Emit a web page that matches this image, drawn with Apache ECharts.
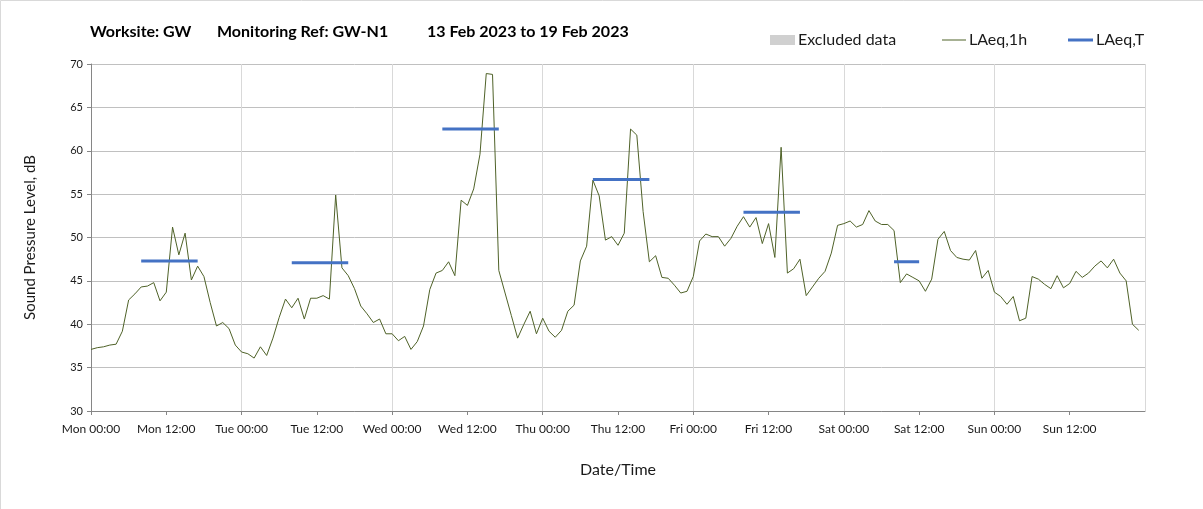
<!DOCTYPE html>
<html>
<head>
<meta charset="utf-8">
<script src="https://cdn.jsdelivr.net/npm/echarts@6/dist/echarts.min.js"></script>
<style>
  html, body { margin: 0; padding: 0; background: #fff; }
  #chart { width: 1203px; height: 509px; }
</style>
</head>
<body>
<div id="chart"></div>
<script>
// Hourly LAeq,1h levels (dB), Monday 00:00 through Sunday 23:00
const hourlyLevels = [
  // Mon
  37.1, 37.3, 37.4, 37.6, 37.7, 39.2, 42.8, 43.5, 44.3, 44.4, 44.8, 42.7,
  43.7, 51.2, 48.0, 50.5, 45.1, 46.7, 45.5, 42.5, 39.8, 40.2, 39.5, 37.6,
  // Tue
  36.8, 36.6, 36.1, 37.4, 36.4, 38.4, 40.8, 42.9, 41.9, 43.0, 40.6, 43.0,
  43.0, 43.3, 42.9, 54.9, 46.5, 45.6, 44.1, 42.1, 41.2, 40.2, 40.6, 38.9,
  // Wed
  38.9, 38.1, 38.6, 37.1, 38.0, 39.8, 44.0, 45.9, 46.2, 47.2, 45.6, 54.3,
  53.7, 55.6, 59.6, 68.9, 68.8, 46.2, 43.6, 41.0, 38.4, 40.0, 41.5, 38.9,
  // Thu
  40.7, 39.2, 38.5, 39.3, 41.5, 42.2, 47.3, 49.0, 56.6, 54.8, 49.7, 50.1,
  49.1, 50.5, 62.5, 61.8, 53.0, 47.2, 47.9, 45.4, 45.3, 44.5, 43.6, 43.8,
  // Fri
  45.5, 49.6, 50.4, 50.1, 50.1, 49.0, 49.9, 51.3, 52.4, 51.2, 52.3, 49.3,
  51.6, 47.7, 60.4, 45.9, 46.4, 47.5, 43.3, 44.3, 45.3, 46.1, 48.2, 51.4,
  // Sat
  51.6, 51.9, 51.2, 51.5, 53.1, 51.9, 51.5, 51.5, 50.8, 44.8, 45.8, 45.4,
  45.0, 43.8, 45.2, 49.8, 50.7, 48.5, 47.7, 47.5, 47.4, 48.5, 45.3, 46.2,
  // Sun
  43.7, 43.2, 42.3, 43.2, 40.4, 40.7, 45.5, 45.2, 44.6, 44.1, 45.6, 44.2,
  44.7, 46.1, 45.4, 45.9, 46.7, 47.3, 46.5, 47.5, 45.9, 45.0, 40.0, 39.3
];

// LAeq,T over each daytime assessment period: first hour, last hour, level (dB)
const periodStart = [8, 32, 56, 80, 104, 128];
const periodEnd   = [17, 41, 65, 89, 113, 132];
const periodLevel = [47.3, 47.1, 62.5, 56.7, 52.9, 47.2];

// Tick labels along the time axis, one every 12 hours
const tickLabels = [
  'Mon 00:00', 'Mon 12:00', 'Tue 00:00', 'Tue 12:00', 'Wed 00:00', 'Wed 12:00',
  'Thu 00:00', 'Thu 12:00', 'Fri 00:00', 'Fri 12:00', 'Sat 00:00', 'Sat 12:00',
  'Sun 00:00', 'Sun 12:00'
];

// Heading parts: site, monitoring reference, date range
const titleParts = ['Worksite: GW', 'Monitoring Ref: GW-N1', '13 Feb 2023 to 19 Feb 2023'];

const FONT = 'Lato, "Open Sans", sans-serif';
const GREEN = '#4f6228';
const BLUE = '#4472c4';

const hourlySeries = {
  name: 'LAeq,1h',
  type: 'line',
  xAxisIndex: 0,
  symbol: 'none',
  lineStyle: { color: GREEN, width: 1 },
  itemStyle: { color: GREEN },
  data: hourlyLevels.map((v, h) => [h, v]),
  z: 3
};

const periodSeries = periodStart.map((s, i) => ({
  name: 'LAeq,T',
  type: 'line',
  xAxisIndex: 0,
  symbol: 'none',
  lineStyle: { color: BLUE, width: 3 },
  itemStyle: { color: BLUE },
  data: [[s, periodLevel[i]], [periodEnd[i], periodLevel[i]]],
  z: 4
}));

// Placeholder series so the legend carries the excluded-data swatch
const excludedSeries = {
  name: 'Excluded data',
  type: 'bar',
  xAxisIndex: 0,
  itemStyle: { color: '#d0d0d0' },
  data: []
};

const legendText = { fontFamily: FONT, fontSize: 16, color: '#1a1a1a', padding: [0, 0, 0, -2] };
const titleStyle = { fontFamily: FONT, fontSize: 16, fontWeight: 'bold', color: '#000' };
const titleLeft = [85, 212, 422];

const option = {
  backgroundColor: '#ffffff',
  animation: false,
  title: titleParts.map((t, i) => ({
    text: t, left: titleLeft[i], top: 19, textStyle: titleStyle
  })),
  legend: [
    {
      data: ['Excluded data'], left: 765, top: 27, itemWidth: 25, itemHeight: 10,
      icon: 'rect', textStyle: legendText
    },
    {
      data: ['LAeq,1h'], left: 937, top: 27, itemWidth: 24, itemHeight: 1,
      icon: 'rect', textStyle: legendText
    },
    {
      data: ['LAeq,T'], left: 1063, top: 27, itemWidth: 25, itemHeight: 3,
      icon: 'rect', textStyle: legendText
    }
  ],
  grid: { left: 91, right: 58, top: 64, bottom: 98, containLabel: false },
  xAxis: [
    {
      type: 'value',
      min: 0,
      max: 168,
      interval: 12,
      name: 'Date/Time',
      nameLocation: 'middle',
      nameGap: 51,
      nameTextStyle: { fontFamily: FONT, fontSize: 16, color: '#1a1a1a' },
      axisLine: { show: true, lineStyle: { color: '#868686', width: 1 } },
      axisTick: { show: true, length: 4, lineStyle: { color: '#868686' } },
      axisLabel: {
        fontFamily: FONT, fontSize: 12, color: '#1a1a1a', margin: 12,
        showMaxLabel: false,
        formatter: (v) => tickLabels[Math.round(v / 12)] || ''
      },
      splitLine: { show: false }
    },
    {
      // Day boundaries only: vertical gridlines every 24 hours
      type: 'value',
      min: 0,
      max: 168,
      interval: 24,
      position: 'bottom',
      axisLine: { show: false },
      axisTick: { show: false },
      axisLabel: { show: false },
      splitLine: { show: true, lineStyle: { color: '#d9d9d9', width: 1 } }
    }
  ],
  yAxis: {
    type: 'value',
    min: 30,
    max: 70,
    interval: 5,
    name: 'Sound Pressure Level, dB',
    nameLocation: 'middle',
    nameGap: 53,
    nameTextStyle: { fontFamily: FONT, fontSize: 15, color: '#1a1a1a' },
    axisLine: { show: true, lineStyle: { color: '#868686', width: 1 } },
    axisTick: { show: true, length: 4, lineStyle: { color: '#868686' } },
    axisLabel: { fontFamily: FONT, fontSize: 11, color: '#1a1a1a', margin: 8 },
    splitLine: { show: true, lineStyle: { color: '#c0c0c0', width: 1 } }
  },
  graphic: [
    {
      type: 'rect',
      shape: { x: 0.5, y: 0.5, width: 1220, height: 530 },
      style: { fill: 'none', stroke: '#d9d9d9', lineWidth: 1 },
      silent: true
    }
  ],
  series: [excludedSeries, hourlySeries].concat(periodSeries)
};

const chart = echarts.init(document.getElementById('chart'), null, { renderer: 'canvas' });
chart.setOption(option);
</script>
</body>
</html>
